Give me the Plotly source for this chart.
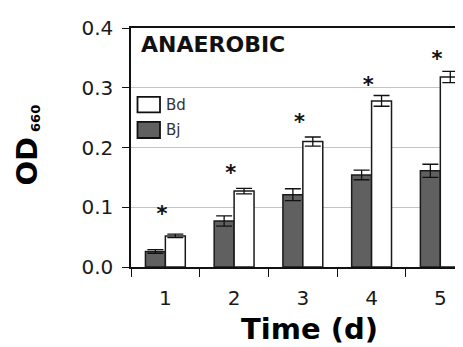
import plotly.graph_objects as go

days = [1, 2, 3, 4, 5]
day_labels = ["1", "2", "3", "4", "5"]
bj_vals = [0.026, 0.077, 0.121, 0.154, 0.161]
bj_err = [0.003, 0.0085, 0.010, 0.008, 0.011]
bd_vals = [0.052, 0.127, 0.210, 0.278, 0.318]
bd_err = [0.003, 0.0045, 0.0076, 0.009, 0.0093]
star_y = [0.085, 0.155, 0.239, 0.301, 0.346]
y_ticks = [0.0, 0.1, 0.2, 0.3, 0.4]
y_tick_labels = ["0.0", "0.1", "0.2", "0.3", "0.4"]

FONT = "DejaVu Sans"
W, H = 463, 347
OFF = 8  # page body margin in the browser
# target screen positions of the plot area
SL, ST, SB, SR = 131, 28.3, 266.7, 463
L = SL - OFF
T = ST - OFF
B = H - (SB - OFF)
R = W - (SR - OFF)

fig = go.Figure()
fig.add_trace(go.Bar(
    x=days, y=bj_vals, name="Bj",
    marker=dict(color="#606060", line=dict(color="#1a1a1a", width=1.5)),
    error_y=dict(type="data", array=bj_err, color="#111", thickness=1.3, width=8),
))
fig.add_trace(go.Bar(
    x=days, y=bd_vals, name="Bd",
    marker=dict(color="white", line=dict(color="#1a1a1a", width=1.5)),
    error_y=dict(type="data", array=bd_err, color="#111", thickness=1.3, width=8),
))
fig.add_trace(go.Scatter(
    x=[d - 0.05 for d in days], y=star_y, mode="text", text=["*"] * len(days),
    textfont=dict(family=FONT, size=21, color="#111", weight="bold"),
    textposition="middle center",
    showlegend=False, hoverinfo="skip",
))

fig.update_layout(
    width=W, height=H, margin=dict(l=L, r=R, t=T, b=B, pad=0),
    paper_bgcolor="white", plot_bgcolor="white",
    barmode="group", bargap=0.42, bargroupgap=0,
    showlegend=False,
    font=dict(family=FONT, color="#111"),
)
fig.update_xaxes(
    range=[0.5, 5.33], tickvals=days, ticktext=day_labels, ticks="",
    tickfont=dict(family=FONT, size=20, color="#1a1a1a"), ticklabelstandoff=12,
    showline=True, linecolor="#111", linewidth=1.5, mirror=True,
    showgrid=False, zeroline=False,
    minor=dict(tickvals=[0.5, 1.5, 2.5, 3.5, 4.5, 5.5], ticks="outside", ticklen=8,
               tickcolor="#111", tickwidth=1.3, showgrid=False),
)
fig.update_yaxes(
    range=[0, 0.4], tickvals=y_ticks, ticktext=y_tick_labels,
    ticks="outside", ticklen=7, tickcolor="#111", tickwidth=1.3,
    tickfont=dict(family=FONT, size=20, color="#1a1a1a"), ticklabelstandoff=5,
    showline=True, linecolor="#111", linewidth=1.5,
    showgrid=True, gridcolor="#c4c4c4", gridwidth=1, zeroline=False,
)

pw = W - L - R
ph = H - T - B

def px_x(x):  # screen px -> paper
    return (x - OFF - L) / pw

def px_y(y):
    return (H - B - (y - OFF)) / ph

# legend (drawn manually)
fig.add_shape(type="rect", xref="paper", yref="paper",
              x0=px_x(137.5), x1=px_x(160), y0=px_y(112.5), y1=px_y(97),
              fillcolor="white", line=dict(color="#111", width=1.8))
fig.add_shape(type="rect", xref="paper", yref="paper",
              x0=px_x(137.5), x1=px_x(160), y0=px_y(138), y1=px_y(122),
              fillcolor="#606060", line=dict(color="#111", width=1.8))
fig.add_annotation(text="Bd", xref="paper", yref="paper", x=px_x(164), y=px_y(105),
                   xanchor="left", yanchor="middle", showarrow=False,
                   font=dict(family=FONT, size=15, color="#333"))
fig.add_annotation(text="Bj", xref="paper", yref="paper", x=px_x(164), y=px_y(130),
                   xanchor="left", yanchor="middle", showarrow=False,
                   font=dict(family=FONT, size=15, color="#333"))

fig.add_annotation(text="<b>ANAEROBIC</b>", xref="paper", yref="paper",
                   x=px_x(139), y=px_y(45), xanchor="left", yanchor="middle",
                   showarrow=False, font=dict(family=FONT, size=22, color="#111"))

fig.add_annotation(text="<b>Time (d)</b>", xref="paper", yref="paper",
                   x=px_x(309), y=px_y(329), xanchor="center", yanchor="middle",
                   showarrow=False, font=dict(family=FONT, size=29, color="#000"))

fig.add_annotation(text="<b>OD</b>", xref="paper", yref="paper", textangle=-90,
                   x=px_x(27), y=px_y(161.5), xanchor="center", yanchor="middle",
                   showarrow=False, font=dict(family=FONT, size=29, color="#000"))
fig.add_annotation(text="<b>660</b>", xref="paper", yref="paper", textangle=-90,
                   x=px_x(36), y=px_y(119), xanchor="center", yanchor="middle",
                   showarrow=False, font=dict(family=FONT, size=13, color="#000"))

fig.write_html("out.html")
